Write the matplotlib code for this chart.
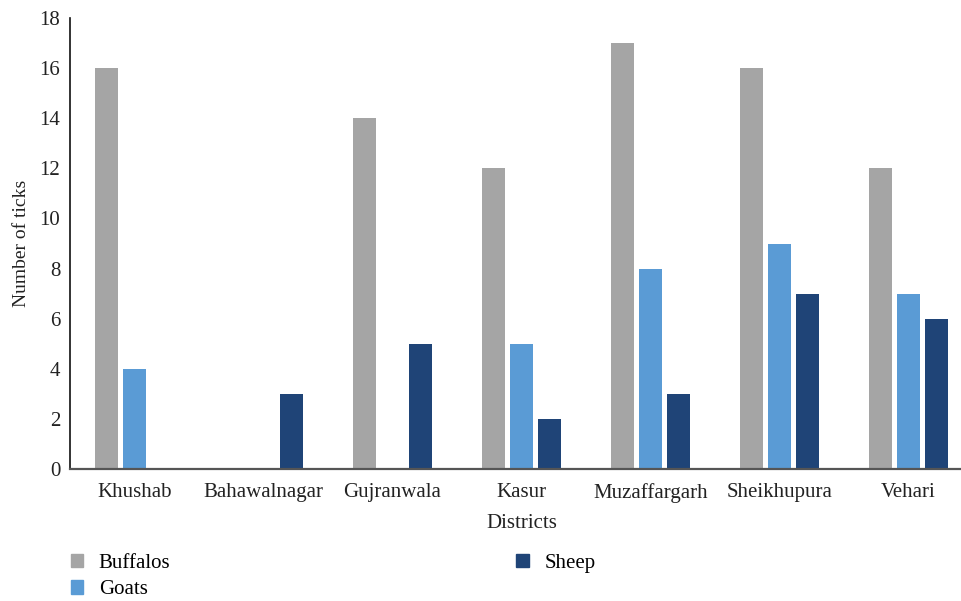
import matplotlib
matplotlib.use("Agg")
import matplotlib.pyplot as plt
import numpy as np
from matplotlib.patches import Patch

districts = ["Khushab", "Bahawalnagar", "Gujranwala", "Kasur", "Muzaffargarh", "Sheikhupura", "Vehari"]
buffalos = [16, 0, 14, 12, 17, 16, 12]
goats = [4, 0, 0, 5, 8, 9, 7]
sheep = [0, 3, 5, 2, 3, 7, 6]
series_names = ["Buffalos", "Goats", "Sheep"]
colors = ["#A5A5A5", "#5A9BD5", "#1F4477"]

plt.rcParams['font.family'] = ['Liberation Serif', 'DejaVu Serif']

fig = plt.figure(figsize=(9.62, 6.01), dpi=100)
ax = fig.add_axes([0.0728, 0.2196, 0.9387, 0.7504])

x = np.arange(len(districts))
w = 0.178
off = 0.217
for i, (vals, c) in enumerate(zip([buffalos, goats, sheep], colors)):
    ax.bar(x + (i - 1) * off, vals, width=w, color=c, zorder=2)

ax.set_xlim(-0.5, len(districts) - 0.5)
ax.set_ylim(0, 18)
ax.set_yticks(range(0, 19, 2))
ax.set_xticks(x)
ax.set_xticklabels(districts)
ax.tick_params(axis='both', length=0, labelsize=15, colors='#222222')
ax.tick_params(axis='x', pad=10)
ax.tick_params(axis='y', pad=7)
for s in ['top', 'right']:
    ax.spines[s].set_visible(False)
ax.spines['left'].set_color('#111111')
ax.spines['left'].set_linewidth(1.2)
ax.spines['bottom'].set_color('#555555')
ax.spines['bottom'].set_linewidth(1.6)
ax.spines['bottom'].set_zorder(3)

ax.set_xlabel("Districts", fontsize=15, color='#222222', labelpad=8)
ax.set_ylabel("Number of ticks", fontsize=14, color='#222222', labelpad=7)

handles = [Patch(color=c) for c in colors]
fig.legend(handles, series_names, ncol=2, loc='upper left',
           bbox_to_anchor=(0.054, 0.1098), frameon=False, fontsize=15,
           handlelength=0.6, handleheight=0.6, handletextpad=0.75,
           columnspacing=16.6, labelspacing=0.36)

fig.savefig("out.png", dpi=100)
